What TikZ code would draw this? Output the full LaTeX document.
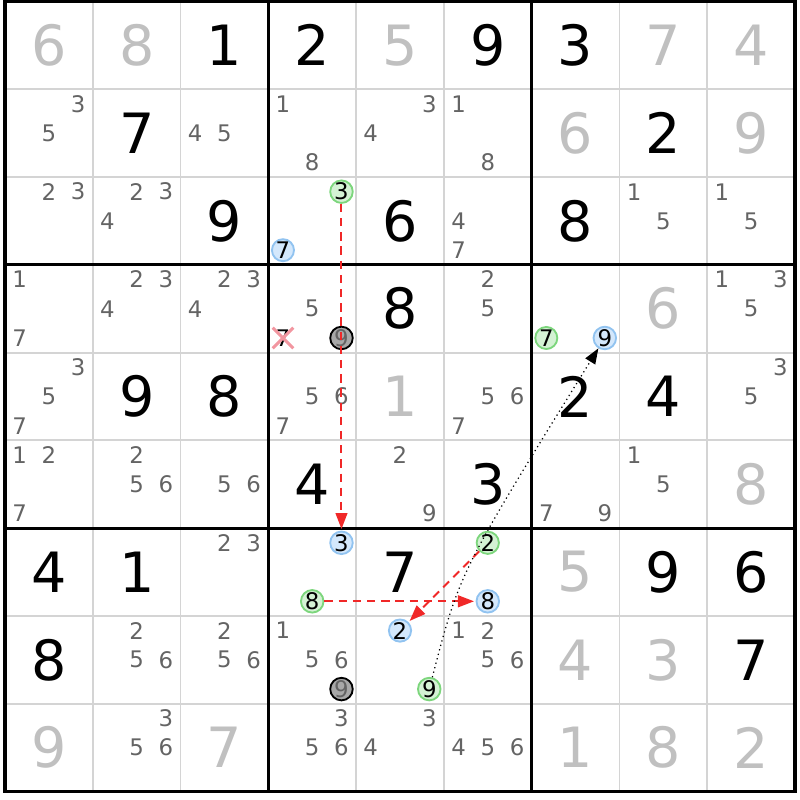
\documentclass[tikz,border=0pt]{standalone}
\usepackage{fontspec}
\setmainfont{DejaVu Sans}
\usetikzlibrary{arrows.meta,shapes.misc}
\definecolor{candgray}{RGB}{100,100,100}
\definecolor{hintgray}{RGB}{192,192,192}
\definecolor{gridgray}{RGB}{212,212,212}
\definecolor{ongreen}{RGB}{212,242,212}
\definecolor{ongreenline}{RGB}{125,214,125}
\definecolor{offblue}{RGB}{212,232,252}
\definecolor{offblueline}{RGB}{145,195,240}
\definecolor{pivotgray}{RGB}{168,168,168}
\definecolor{linkred}{RGB}{240,40,40}
\definecolor{crossred}{RGB}{242,150,160}

\begin{document}
\begin{tikzpicture}
    [ x=1cm, y=-1cm
    , given/.style={inner sep=0pt, font=\fontsize{18pt}{18pt}\selectfont}
    , hint/.style={given, text=hintgray}
    , cand/.style={inner sep=0pt, text=candgray, font=\fontsize{7.4pt}{7.4pt}\selectfont}
    , ring/.style={circle, inner sep=0pt, minimum size=0.24cm, line width=0.6pt, font=\fontsize{7.4pt}{7.4pt}\selectfont}
    , chainon/.style={ring, draw=ongreenline, fill=ongreen}
    , chainoff/.style={ring, draw=offblueline, fill=offblue}
    , pivot/.style={ring, draw=black, fill=pivotgray, text=candgray}
    , strong/.style={draw=linkred, line width=0.65pt, dash pattern=on 2.7pt off 1.9pt, shorten >=0.5pt, -{Triangle[length=5.2pt,width=3.8pt]}}
    , weak/.style={draw=black, line width=0.4pt, dash pattern=on 0.4pt off 1.1pt, -{Triangle[length=5pt,width=3.7pt]}}
    ]
\useasboundingbox (-0.057,-0.017) rectangle (9.057,9.097);

% grid
\foreach \i in {1,2,4,5,7,8} {
  \draw[gridgray, line width=0.6pt] (\i,0) -- (\i,9);
  \draw[gridgray, line width=0.6pt] (0,\i) -- (9,\i);
}
\foreach \i in {3,6} {
  \draw[line width=1pt] (\i,0) -- (\i,9);
  \draw[line width=1pt] (0,\i) -- (9,\i);
}
\draw[line width=1pt] (0,0) rectangle (9,9);

% givens
\foreach \c/\r/\d in {2/0/1, 3/0/2, 5/0/9, 6/0/3, 1/1/7, 7/1/2, 2/2/9, 4/2/6, 6/2/8,
    4/3/8, 1/4/9, 2/4/8, 6/4/2, 7/4/4, 3/5/4, 5/5/3, 0/6/4, 1/6/1, 4/6/7, 7/6/9,
    8/6/6, 0/7/8, 8/7/7}
  \node[given] (g\c\r) at (\c+0.5,\r+0.5) {\d};
\foreach \c/\r/\d in {0/0/6, 1/0/8, 4/0/5, 7/0/7, 8/0/4, 6/1/6, 8/1/9, 7/3/6, 4/4/1,
    8/5/8, 6/6/5, 6/7/4, 7/7/3, 0/8/9, 2/8/7, 6/8/1, 7/8/8, 8/8/2}
  \node[hint] (g\c\r) at (\c+0.5,\r+0.5) {\d};

% candidates
\foreach \c/\r/\d in {0/1/3, 0/1/5, 2/1/4, 2/1/5, 3/1/1, 3/1/8, 4/1/3, 4/1/4, 5/1/1, 5/1/8,
    0/2/2, 0/2/3, 1/2/2, 1/2/3, 1/2/4, 5/2/4, 5/2/7, 7/2/1, 7/2/5, 8/2/1, 8/2/5,
    0/3/1, 0/3/7, 1/3/2, 1/3/3, 1/3/4, 2/3/2, 2/3/3, 2/3/4, 3/3/5, 5/3/2, 5/3/5,
    8/3/1, 8/3/3, 8/3/5,
    0/4/3, 0/4/5, 0/4/7, 3/4/5, 3/4/6, 3/4/7, 5/4/5, 5/4/6, 5/4/7, 8/4/3, 8/4/5,
    0/5/1, 0/5/2, 0/5/7, 1/5/2, 1/5/5, 1/5/6, 2/5/5, 2/5/6, 4/5/2, 4/5/9, 6/5/7,
    6/5/9, 7/5/1, 7/5/5,
    2/6/2, 2/6/3,
    1/7/2, 1/7/5, 1/7/6, 2/7/2, 2/7/5, 2/7/6, 3/7/1, 3/7/5, 3/7/6, 5/7/1, 5/7/2,
    5/7/5, 5/7/6,
    1/8/3, 1/8/5, 1/8/6, 3/8/3, 3/8/5, 3/8/6, 4/8/3, 4/8/4, 5/8/4, 5/8/5, 5/8/6}
  \node[cand] (c\c\r\d) at ({\c+(2*mod(\d-1,3)+1)/6},{\r+(2*floor((\d-1)/3)+1)/6}) {\d};

% chain
\node[chainon]  (on3)   at ({3+5/6},{2+1/6}) {3};
\node[chainoff] (off7)  at ({3+1/6},{2+5/6}) {7};
\node[cand, cross out, draw=crossred, line width=1pt, text=black, minimum size=0.2cm]
                (cut7)  at ({3+1/6},{3+5/6}) {7};
\node[pivot]    (pin9a) at ({3+5/6},{3+5/6}) {9};
\node[chainon]  (on7)   at ({6+1/6},{3+5/6}) {7};
\node[chainoff] (off9)  at ({6+5/6},{3+5/6}) {9};
\node[chainoff] (off3)  at ({3+5/6},{6+1/6}) {3};
\node[chainon]  (on8)   at ({3+3/6},{6+5/6}) {8};
\node[chainon]  (on2)   at ({5+3/6},{6+1/6}) {2};
\node[chainoff] (off8)  at ({5+3/6},{6+5/6}) {8};
\node[pivot]    (pin9b) at ({3+5/6},{7+5/6}) {9};
\node[chainoff] (off2)  at ({4+3/6},{7+1/6}) {2};
\node[chainon]  (on9)   at ({4+5/6},{7+5/6}) {9};

\draw[strong] (on3) -- (off3);
\draw[strong] (on8) -- (off8);
\draw[strong] (on2) -- (off2);
\coordinate (bend) at (5.18,6.5);
\draw[weak] (on9) .. controls (bend) .. (off9);
\end{tikzpicture}
\end{document}
